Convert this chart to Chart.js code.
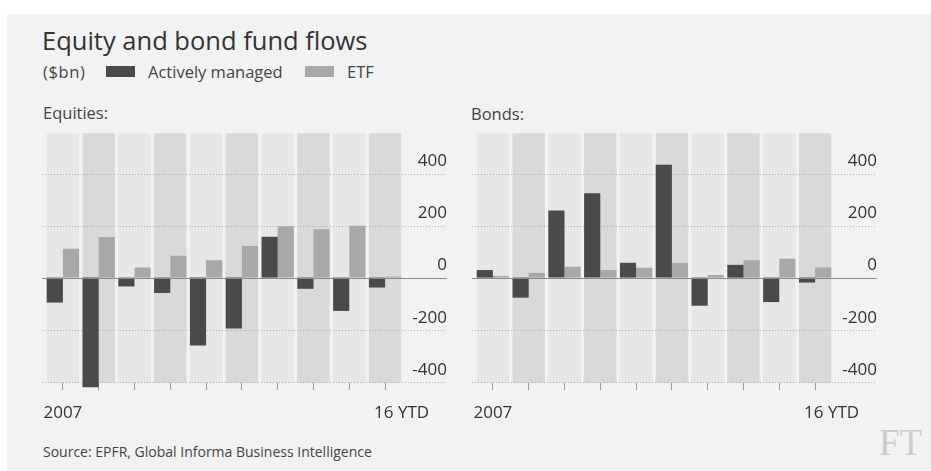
<!DOCTYPE html>
<html>
<head>
<meta charset="utf-8">
<script src="https://cdn.jsdelivr.net/npm/chart.js@4.4.1/dist/chart.umd.min.js"></script>
<style>
  body { margin: 0; background: #fff; width: 931px; height: 471px; overflow: hidden; font-family: "Open Sans", sans-serif; color: #333; }
  #frame { position: absolute; left: 7px; top: 14px; width: 924px; height: 457px; background: #f2f2f2; }
  .txt { position: absolute; white-space: nowrap; }
  .sw { position: absolute; width: 29px; height: 11px; }
  .box { position: absolute; top: 120px; width: 410px; height: 310px; }
</style>
</head>
<body>
<div id="frame"></div>
<div class="txt" style="left:42px; top:25px; font-size:25.5px; line-height:30px; color:#333;">Equity and bond fund flows</div>
<div class="txt" style="left:43px; top:61px; font-size:16.5px; line-height:22px; color:#444; letter-spacing:0.6px;">($bn)</div>
<div class="sw" style="left:106px; top:66px; background:#4a4a4a;"></div>
<div class="txt" style="left:148px; top:61px; font-size:16.5px; line-height:22px; color:#444;">Actively managed</div>
<div class="sw" style="left:305px; top:66px; background:#a8a8a8;"></div>
<div class="txt" style="left:347px; top:61px; font-size:16.5px; line-height:22px; color:#444;">ETF</div>
<div class="txt" style="left:43px; top:102px; font-size:16.5px; line-height:22px; color:#444;">Equities:</div>
<div class="txt" style="left:471px; top:103px; font-size:16.5px; line-height:22px; color:#444;">Bonds:</div>
<div class="txt" style="left:43px; top:443px; font-size:14px; line-height:18px; color:#444;">Source: EPFR, Global Informa Business Intelligence</div>
<div class="txt" style="left:879px; top:423px; font-size:37px; line-height:40px; color:#cdcdcd; font-family:'Liberation Serif', serif;">FT</div>

<div class="box" style="left:40px;"><canvas id="chartEquities"></canvas></div>
<div class="box" style="left:470px;"><canvas id="chartBonds"></canvas></div>

<script>
// years on the x axis, only first and last are labelled
var years = ['2007', '2008', '2009', '2010', '2011', '2012', '2013', '2014', '2015', '2016'];
var yearLabels = ['2007', '', '', '', '', '', '', '', '', '16 YTD'];
var yTicks = [-400, -200, 0, 200, 400];

// $bn
var equityActive = [-96, -421, -34, -59, -261, -196, 157, -43, -128, -38];
var equityEtf = [111, 156, 39, 84, 67, 122, 197, 186, 199, 4];
var bondActive = [29, -77, 258, 324, 57, 434, -108, 49, -94, -19];
var bondEtf = [6, 18, 42, 29, 38, 56, 10, 67, 73, 39];

var FONT = '"Open Sans", sans-serif';
var COL_PCT = 0.904;

var panelPlugin = {
    id: 'panelPlugin',
    beforeDatasetsDraw: function(chart) {
        var ctx = chart.ctx, area = chart.chartArea;
        var x = chart.scales.x, y = chart.scales.y;
        var pitch = x.getPixelForValue(1) - x.getPixelForValue(0);
        var half = pitch * COL_PCT / 2;
        ctx.save();
        years.forEach(function(yr, i) {
            var c = x.getPixelForValue(i);
            ctx.fillStyle = (i % 2 === 0) ? '#e7e7e7' : '#d9d9d9';
            ctx.fillRect(c - half, area.top, half * 2, area.bottom - area.top);
        });
        // dotted gridlines, running under the tick labels
        ctx.strokeStyle = '#acacac';
        ctx.lineWidth = 1;
        ctx.setLineDash([1, 2]);
        y.ticks.forEach(function(t) {
            if (t.value === 0) return;
            var py = Math.round(y.getPixelForValue(t.value)) + 0.5;
            ctx.beginPath();
            ctx.moveTo(area.left - 3, py);
            ctx.lineTo(y.right, py);
            ctx.stroke();
        });
        ctx.restore();
    },
    afterDatasetsDraw: function(chart) {
        var ctx = chart.ctx, area = chart.chartArea, y = chart.scales.y;
        var py = Math.round(y.getPixelForValue(0)) + 0.5;
        ctx.save();
        ctx.strokeStyle = '#8a8a8a';
        ctx.lineWidth = 1.2;
        ctx.beginPath();
        ctx.moveTo(area.left - 3, py);
        ctx.lineTo(y.right, py);
        ctx.stroke();
        ctx.restore();
    },
    afterDraw: function(chart) {
        var ctx = chart.ctx, x = chart.scales.x;
        ctx.save();
        ctx.fillStyle = '#333';
        ctx.font = '17px ' + FONT;
        ctx.textBaseline = 'middle';
        var last = yearLabels.length - 1;
        yearLabels.forEach(function(lbl, i) {
            if (!lbl) return;
            var px = x.getPixelForValue(i);
            if (i === last) {
                ctx.textAlign = 'left';
                ctx.fillText(lbl, px - 11, chart.chartArea.bottom + 30);
            } else {
                ctx.textAlign = 'center';
                ctx.fillText(lbl, px, chart.chartArea.bottom + 30);
            }
        });
        ctx.restore();
    }
};

function makeChart(id, active, etf) {
    return new Chart(document.getElementById(id), {
        type: 'bar',
        data: {
            labels: years,
            datasets: [
                {
                    label: 'Actively managed',
                    data: active,
                    backgroundColor: '#4a4a4a',
                    borderWidth: 0,
                    barPercentage: 1,
                    categoryPercentage: COL_PCT,
                    clip: false
                },
                {
                    label: 'ETF',
                    data: etf,
                    backgroundColor: '#a8a8a8',
                    borderWidth: 0,
                    barPercentage: 1,
                    categoryPercentage: COL_PCT,
                    clip: false
                }
            ]
        },
        options: {
            animation: false,
            responsive: true,
            maintainAspectRatio: false,
            layout: {
                padding: { left: 5, top: 10, right: 3, bottom: 0 }
            },
            plugins: {
                legend: { display: false },
                tooltip: { enabled: false }
            },
            scales: {
                x: {
                    type: 'category',
                    offset: true,
                    grid: {
                        offset: false,
                        drawOnChartArea: false,
                        drawTicks: true,
                        tickLength: 7,
                        color: '#999'
                    },
                    border: { display: false },
                    ticks: {
                        autoSkip: false,
                        maxRotation: 0,
                        callback: function() { return ''; }
                    },
                    afterFit: function(scale) { scale.height = 47; }
                },
                y: {
                    position: 'right',
                    min: -405,
                    max: 555,
                    grid: { display: false },
                    border: { display: false },
                    afterBuildTicks: function(scale) {
                        scale.ticks = yTicks.map(function(v) { return { value: v }; });
                    },
                    ticks: {
                        crossAlign: 'far',
                        labelOffset: -12,
                        color: '#333',
                        font: { family: FONT, size: 17 }
                    },
                    afterFit: function(scale) { scale.width = 44; }
                }
            }
        },
        plugins: [panelPlugin]
    });
}

var chartEquities = makeChart('chartEquities', equityActive, equityEtf);
var chartBonds = makeChart('chartBonds', bondActive, bondEtf);
</script>
</body>
</html>
